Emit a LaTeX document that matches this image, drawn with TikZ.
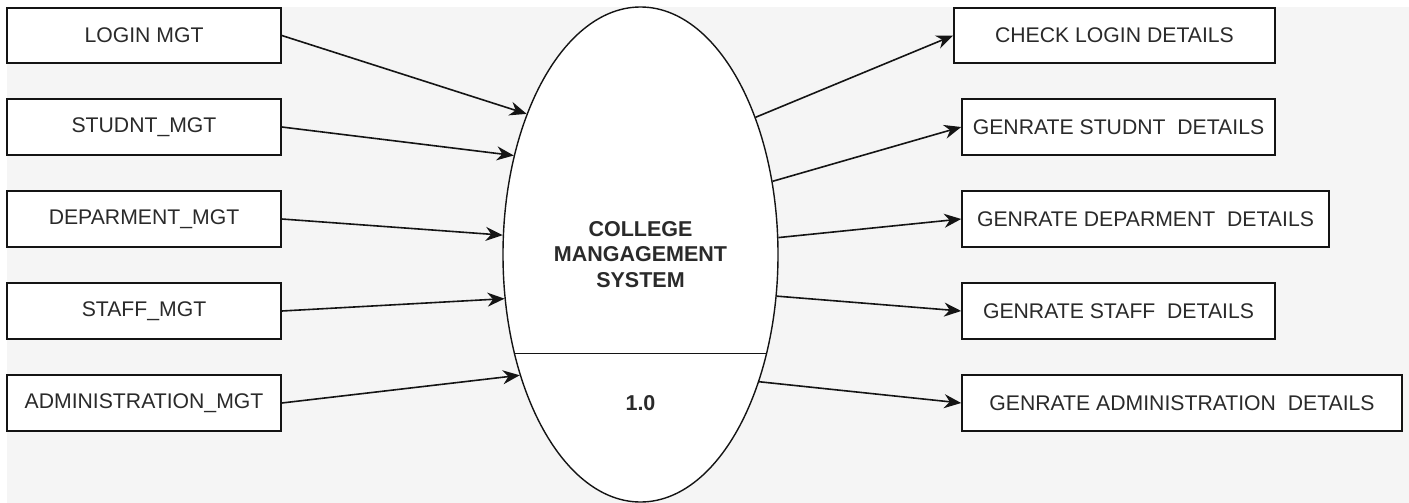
\documentclass[tikz,border=0pt]{standalone}
\usepackage{fontspec}
\setmainfont{Liberation Sans}
\usetikzlibrary{shapes.geometric,arrows.meta}
\definecolor{bgc}{HTML}{F5F5F5}
\definecolor{txt}{HTML}{2A2A2A}
\definecolor{ln}{HTML}{141414}
\begin{document}
\begin{tikzpicture}[x=1pt,y=-1pt,
  box/.style={draw=ln, fill=white, line width=1.6pt, minimum height=55.5pt,
    inner sep=0pt, font=\fontsize{21.2}{25}\selectfont, text=txt},
  flow/.style={-{Stealth[length=17pt,width=14pt,inset=5.5pt]}, line width=1.6pt, draw=ln},
  bold/.style={font=\bfseries\fontsize{21.5}{25.5}\selectfont, text=txt, align=center}
]
\useasboundingbox (0,0) rectangle (1409,503);
\fill[white] (0,0) rectangle (1409,503);
\fill[bgc] (7,7) rectangle (1409,503);

% left boxes
\node[box, minimum width=274pt] (l1) at (144,35.5) {LOGIN MGT};
\node[box, minimum width=274pt] (l2) at (144,127) {STUDNT\_MGT};
\node[box, minimum width=274pt] (l3) at (144,219) {DEPARMENT\_MGT};
\node[box, minimum width=274pt] (l4) at (144,311) {STAFF\_MGT};
\node[box, minimum width=274pt] (l5) at (144,403) {ADMINISTRATION\_MGT};

% right boxes
\node[box, minimum width=321pt] (r1) at (1114.5,35.5) {CHECK LOGIN DETAILS};
\node[box, minimum width=313pt] (r2) at (1118.5,127) {GENRATE STUDNT\ \ DETAILS};
\node[box, minimum width=367pt] (r3) at (1145.5,219) {GENRATE DEPARMENT\ \ DETAILS};
\node[box, minimum width=313pt] (r4) at (1118.5,311) {GENRATE STAFF\ \ DETAILS};
\node[box, minimum width=440pt] (r5) at (1182,403) {GENRATE ADMINISTRATION\ \ DETAILS};

% process
\node[draw=ln, ellipse, fill=white, minimum width=275pt, minimum height=495pt,
  inner sep=0pt, line width=1.4pt, bold] (ell) at (640.5,254.5)
  {COLLEGE\\MANGAGEMENT\\SYSTEM};
\draw[line width=1.5pt, draw=ln] (ell.218) -- (ell.322);
\node[bold] (num) at (640.5,403) {1.0};

% inputs
\draw[flow] (l1.east) -- (ell.129.5);
\draw[flow] (l2.east) -- (ell.142.5);
\draw[flow] (l3.east) -- (ell.172);
\draw[flow] (l4.east) -- (ell.198.5);
\draw[flow] (l5.east) -- (ell.225);

% outputs
\draw[flow] (ell.50) -- (r1.west);
\draw[flow] (ell.29) -- (r2.west);
\draw[flow] (ell.7) -- (r3.west);
\draw[flow] (ell.-17) -- (r4.west);
\draw[flow] (ell.-47) -- (r5.west);
\end{tikzpicture}
\end{document}
